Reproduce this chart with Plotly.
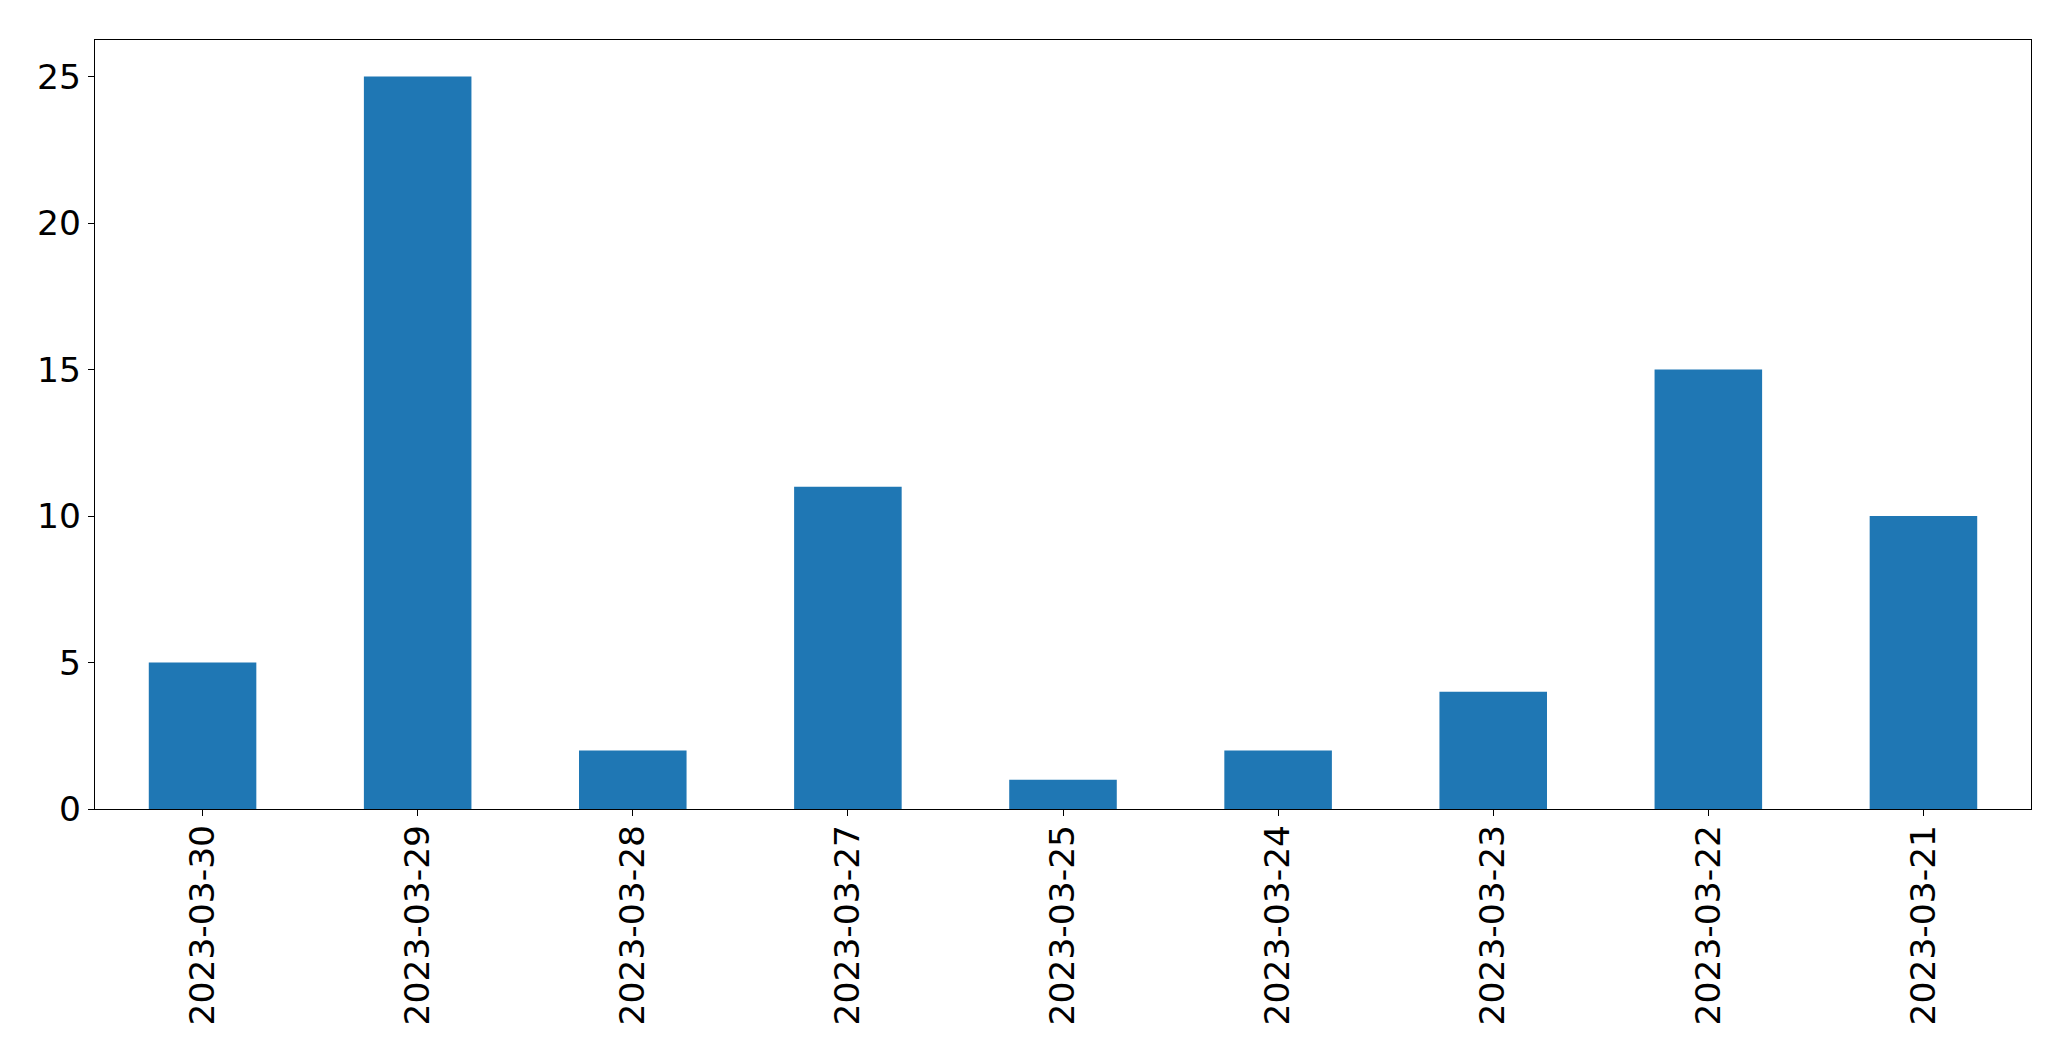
import plotly.graph_objects as go

dates = ["2023-03-30", "2023-03-29", "2023-03-28", "2023-03-27", "2023-03-25",
         "2023-03-24", "2023-03-23", "2023-03-22", "2023-03-21"]
counts = [5, 25, 2, 11, 1, 2, 4, 15, 10]
y_ticks = [0, 5, 10, 15, 20, 25]

fig = go.Figure(go.Bar(x=dates, y=counts, marker=dict(color="#1f77b4", line=dict(width=0)), width=0.5))

axis_common = dict(showline=True, linecolor="black", linewidth=1.3, mirror=True,
                   ticks="outside", ticklen=6, tickwidth=1.3, tickcolor="black",
                   showgrid=False, zeroline=False,
                   tickfont=dict(family="DejaVu Sans", size=34.5, color="black"))

# page body has an 8px margin, so plot-area margins are offset accordingly
fig.update_layout(
    width=2071, height=1061,
    margin=dict(l=86.5, r=47.5, t=31.5, b=260),
    paper_bgcolor="white", plot_bgcolor="white",
    showlegend=False,
    xaxis=dict(type="category", range=[-0.5, 8.5], tickangle=-90,
               ticklabelstandoff=-5, **axis_common),
    yaxis=dict(range=[0, 26.25], tickvals=y_ticks, **axis_common),
)

fig.write_html("out.html")
